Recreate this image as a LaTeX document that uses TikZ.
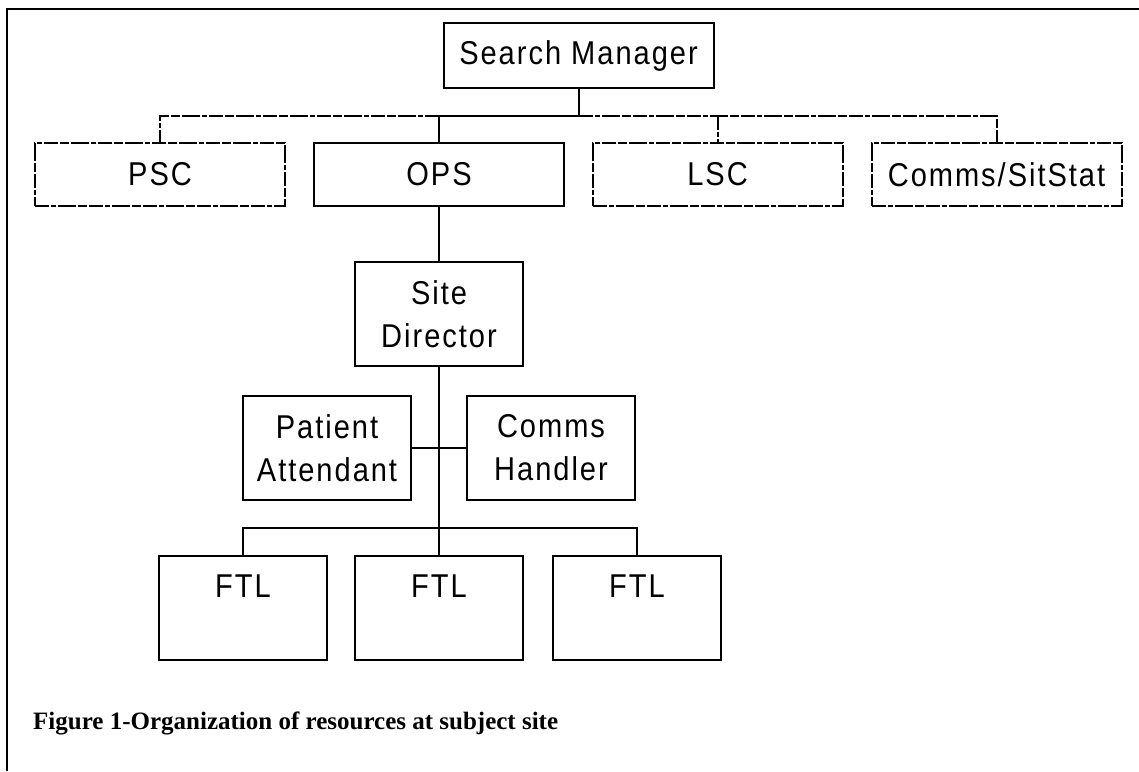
\documentclass[tikz,border=0pt]{standalone}
\usepackage{fontspec}
\newfontfamily\boxfamily[FakeStretch=0.88,LetterSpace=6]{Liberation Sans}
\newfontfamily\capfamily{Liberation Serif}
\begin{document}
\begin{tikzpicture}[x=1pt,y=-1pt,
  frame/.style={line width=2pt},
  box/.style={draw, line width=2pt, inner sep=0pt, align=center,
    font=\boxfamily\fontsize{33}{43}\selectfont},
  top/.style={box, minimum width=250pt, minimum height=63pt},
  small/.style={box, minimum width=168pt, minimum height=104pt},
  dashline/.style={dash pattern=on 14pt off 2pt on 5pt off 2pt on 18pt off 2pt on 9pt off 2pt},
  dbox/.style={top, dashline},
  conn/.style={line width=2pt},
  caption/.style={font=\capfamily\bfseries\fontsize{25}{30}\selectfont, inner sep=0pt}]
\useasboundingbox (0,0) rectangle (1139,771);
\draw[frame] (7,771) -- (7,9) -- (1139,9);

\node[box, minimum width=270pt, minimum height=65pt] (sm) at (578.5,55.5) {Search Manager};
\node[dbox] (psc) at (160,174.5) {PSC};
\node[top] (ops) at (439,174.5) {OPS};
\node[dbox] (lsc) at (717.5,174.5) {LSC};
\node[dbox] (css) at (996.5,174.5) {Comms/SitStat};
\node[small] (sd) at (439,314) {Site\\Director};
\node[small] (pa) at (327,448) {Patient\\Attendant};
\node[small] (ch) at (551,448) {Comms\\Handler};
\node[small] (f1) at (243,608) {FTL\\~};
\node[small] (f2) at (439,608) {FTL\\~};
\node[small] (f3) at (637,608) {FTL\\~};
\node[caption, anchor=base west] (cap) at (33,729) {Figure 1-Organization of resources at subject site};

\coordinate (bus1) at (sm.south |- 0,116);
\coordinate (bus2) at (f2.north |- 0,528);
\draw[conn] (sm.south) -- (bus1) -- (ops.north |- bus1) -- (ops.north);
\draw[conn,dashline] (ops.north |- bus1) -| (psc.north);
\draw[conn,dashline] (bus1) -| (css.north);
\draw[conn,dashline] (lsc.north |- bus1) -- (lsc.north);
\draw[conn] (ops.south) -- (sd.north);
\draw[conn] (sd.south) -- (f2.north);
\draw[conn] (pa.east) -- (ch.west);
\draw[conn] (f1.north) |- (bus2) -| (f3.north);
\end{tikzpicture}
\end{document}
